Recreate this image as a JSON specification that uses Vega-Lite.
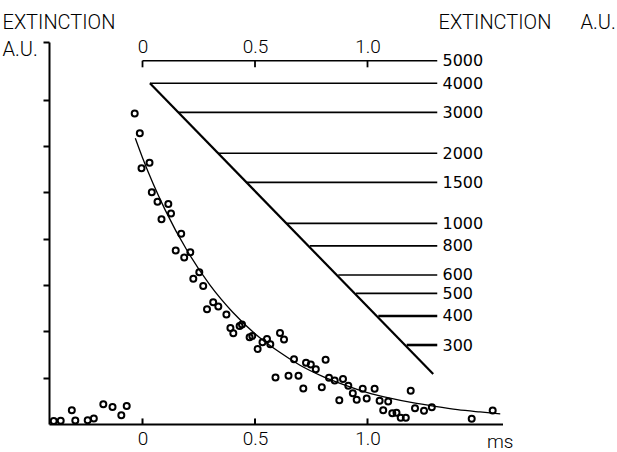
{
  "$schema": "https://vega.github.io/schema/vega-lite/v6.json",
  "width": 453.5,
  "height": 382,
  "autosize": {"type": "none"},
  "padding": {"left": 49, "top": 42, "right": 114.5, "bottom": 28},
  "background": "white",
  "config": {
    "view": {"stroke": null},
    "axis": {"grid": false, "labelColor": "black", "titleColor": "black", "domainColor": "black", "tickColor": "black"}
  },
  "resolve": {
    "scale": {"x": "independent", "y": "independent"},
    "axis": {"x": "independent", "y": "independent"}
  },
  "layer": [
    {
      "encoding": {
        "x": {
          "field": "t", "type": "quantitative",
          "scale": {"domain": [-0.4156, 1.6], "nice": false, "zero": false},
          "axis": {
            "orient": "bottom", "values": [0, 0.5, 1],
            "labelExpr": "datum.value == 0 ? '0' : format(datum.value, '.1f')",
            "ticks": false, "tickSize": 0, "labelPadding": 5,
            "labelFont": "Roboto", "labelFontWeight": 300, "labelFontSize": 19,
            "domainWidth": 2,
            "title": "ms", "titleAnchor": "end", "titleAlign": "right", "titleBaseline": "top",
            "titleX": 464, "titleY": 8,
            "titleFont": "Roboto", "titleFontWeight": 300, "titleFontSize": 19
          }
        },
        "y": {
          "field": "v", "type": "quantitative",
          "scale": {"domain": [0, 8.25], "nice": false, "zero": true},
          "axis": {
            "orient": "left", "values": [1, 2, 3, 4, 5, 6, 7, 8.25],
            "labels": false, "tickSize": 6, "tickWidth": 2, "domainWidth": 2,
            "title": ["EXTINCTION", "A.U."], "titleAngle": 0, "titleAlign": "left",
            "titleBaseline": "alphabetic", "titleX": -47, "titleY": -14, "titleLineHeight": 27,
            "titleFont": "Roboto", "titleFontSize": 20, "titleFontWeight": 300
          }
        }
      },
      "layer": [
        {
          "data": {"values": [
            {"t": -0.0347, "v": 6.706}, {"t": -0.012, "v": 6.279}, {"t": 0.0311, "v": 5.641}, {"t": -0.0044, "v": 5.523},
            {"t": 0.0413, "v": 5.004}, {"t": 0.0667, "v": 4.801}, {"t": 0.1147, "v": 4.752}, {"t": 0.1267, "v": 4.546},
            {"t": 0.0844, "v": 4.421}, {"t": 0.172, "v": 4.108}, {"t": 0.1476, "v": 3.747}, {"t": 0.2124, "v": 3.708},
            {"t": 0.1853, "v": 3.596}, {"t": 0.2524, "v": 3.279}, {"t": 0.2258, "v": 3.138}, {"t": 0.2698, "v": 2.981},
            {"t": 0.3142, "v": 2.631}, {"t": 0.3369, "v": 2.538}, {"t": 0.2867, "v": 2.479}, {"t": 0.3729, "v": 2.365},
            {"t": 0.4422, "v": 2.147}, {"t": 0.4316, "v": 2.117}, {"t": 0.3907, "v": 2.073}, {"t": 0.4036, "v": 1.959},
            {"t": 0.488, "v": 1.901}, {"t": 0.476, "v": 1.873}, {"t": 0.5533, "v": 1.836}, {"t": 0.5333, "v": 1.765},
            {"t": 0.568, "v": 1.721}, {"t": 0.5116, "v": 1.62}, {"t": 0.6111, "v": 1.965}, {"t": 0.6289, "v": 1.823},
            {"t": 0.5911, "v": 1.002}, {"t": 0.6489, "v": 1.041}, {"t": 0.6933, "v": 1.043}, {"t": 0.6733, "v": 1.4},
            {"t": 0.7267, "v": 1.322}, {"t": 0.748, "v": 1.283}, {"t": 0.7702, "v": 1.184}, {"t": 0.8138, "v": 1.389},
            {"t": 0.7147, "v": 0.765}, {"t": 0.7969, "v": 0.795}, {"t": 0.8289, "v": 1.0}, {"t": 0.8542, "v": 0.94},
            {"t": 0.8911, "v": 0.972}, {"t": 0.9147, "v": 0.827}, {"t": 0.9347, "v": 0.663}, {"t": 0.952, "v": 0.525},
            {"t": 0.8747, "v": 0.514}, {"t": 0.9787, "v": 0.762}, {"t": 0.9964, "v": 0.551}, {"t": 1.0316, "v": 0.762},
            {"t": 1.0538, "v": 0.501}, {"t": 1.0698, "v": 0.298}, {"t": 1.092, "v": 0.484}, {"t": 1.1102, "v": 0.231},
            {"t": 1.1289, "v": 0.244}, {"t": 1.1476, "v": 0.134}, {"t": 1.1702, "v": 0.136}, {"t": 1.192, "v": 0.717},
            {"t": 1.2111, "v": 0.341}, {"t": 1.2511, "v": 0.287}, {"t": 1.2858, "v": 0.361}, {"t": 1.4631, "v": 0.114},
            {"t": 1.5564, "v": 0.292},
            {"t": -0.3947, "v": 0.065}, {"t": -0.3636, "v": 0.071}, {"t": -0.3142, "v": 0.298}, {"t": -0.2987, "v": 0.076},
            {"t": -0.2436, "v": 0.082}, {"t": -0.2164, "v": 0.119}, {"t": -0.1742, "v": 0.428}, {"t": -0.1333, "v": 0.367},
            {"t": -0.0942, "v": 0.19}, {"t": -0.0702, "v": 0.389}
          ]},
          "mark": {"type": "point", "shape": "circle", "filled": false, "stroke": "black", "strokeWidth": 2, "size": 36, "opacity": 1}
        },
        {
          "data": {"values": [
            {"t": -0.032, "v": 6.17}, {"t": 0.0, "v": 5.75}, {"t": 0.1, "v": 4.63}, {"t": 0.2, "v": 3.73},
            {"t": 0.3, "v": 3.0}, {"t": 0.4, "v": 2.42}, {"t": 0.5, "v": 1.95}, {"t": 0.6, "v": 1.58},
            {"t": 0.7, "v": 1.27}, {"t": 0.8, "v": 1.03}, {"t": 0.9, "v": 0.84}, {"t": 1.0, "v": 0.68},
            {"t": 1.1, "v": 0.56}, {"t": 1.2, "v": 0.46}, {"t": 1.3, "v": 0.38}, {"t": 1.4, "v": 0.31},
            {"t": 1.5, "v": 0.26}, {"t": 1.59, "v": 0.22}
          ]},
          "mark": {"type": "line", "color": "black", "strokeWidth": 1.3, "interpolate": "monotone"}
        },
        {
          "data": {"values": [
            {"t": 0, "v": 0, "v2": 0.12}, {"t": 0.5, "v": 0, "v2": 0.12}, {"t": 1.0, "v": 0, "v2": 0.12}
          ]},
          "mark": {"type": "rule", "color": "black", "strokeWidth": 2},
          "encoding": {"y2": {"field": "v2"}}
        }
      ]
    },
    {
      "encoding": {
        "x": {
          "field": "t", "type": "quantitative",
          "scale": {"domain": [-0.4156, 1.6], "nice": false, "zero": false},
          "axis": {
            "orient": "top", "values": [0, 0.5, 1],
            "labelExpr": "datum.value == 0 ? '0' : format(datum.value, '.1f')",
            "ticks": false, "tickSize": 0, "domain": false, "offset": -19, "labelPadding": 5,
            "labelFont": "Roboto", "labelFontWeight": 300, "labelFontSize": 19, "title": null
          }
        },
        "y": {
          "field": "v", "type": "quantitative",
          "scale": {"type": "log", "domain": [137.3, 6017.5], "nice": false, "zero": false},
          "axis": {
            "orient": "right", "offset": -64.5,
            "values": [300, 400, 500, 600, 800, 1000, 1500, 2000, 3000, 4000, 5000],
            "format": "d",
            "ticks": false, "tickSize": 0, "domain": false, "labelPadding": 4,
            "labelFont": "DejaVu Sans", "labelFontSize": 16, "labelAlign": "left", "labelBaseline": "middle",
            "labelOverlap": false, "labelFlush": false,
            "title": "EXTINCTION\u00a0\u00a0\u00a0\u00a0\u00a0\u00a0A.U.", "titleAngle": 0, "titleAlign": "left",
            "titleBaseline": "alphabetic", "titleX": 0, "titleY": -14,
            "titleFont": "Roboto", "titleFontSize": 20, "titleFontWeight": 300
          }
        }
      },
      "layer": [
        {
          "data": {"values": [
            {"t": 0.0, "t2": 1.31, "v": 5000}, {"t": 0.033, "t2": 1.31, "v": 4000}, {"t": 0.159, "t2": 1.31, "v": 3000},
            {"t": 0.337, "t2": 1.31, "v": 2000}, {"t": 0.463, "t2": 1.31, "v": 1500}, {"t": 0.641, "t2": 1.31, "v": 1000},
            {"t": 0.744, "t2": 1.31, "v": 800}, {"t": 0.87, "t2": 1.31, "v": 600}, {"t": 0.949, "t2": 1.31, "v": 500},
            {"t": 1.048, "t2": 1.31, "v": 400}, {"t": 1.174, "t2": 1.31, "v": 300}
          ]},
          "mark": {"type": "rule", "color": "black"},
          "encoding": {
            "x2": {"field": "t2"},
            "strokeWidth": {"condition": {"test": "datum.v <= 400", "value": 2.6}, "value": 1.6}
          }
        },
        {
          "data": {"values": [{"t": 0.033, "v": 4000, "t2": 1.292, "v2": 225}]},
          "mark": {"type": "rule", "color": "black", "strokeWidth": 2.2},
          "encoding": {"x2": {"field": "t2"}, "y2": {"field": "v2"}}
        },
        {
          "data": {"values": [
            {"t": 0, "v": 5000, "v2": 4684}, {"t": 0.5, "v": 5000, "v2": 4684}, {"t": 1.0, "v": 5000, "v2": 4684}
          ]},
          "mark": {"type": "rule", "color": "black", "strokeWidth": 1.8},
          "encoding": {"y2": {"field": "v2"}}
        }
      ]
    }
  ]
}
